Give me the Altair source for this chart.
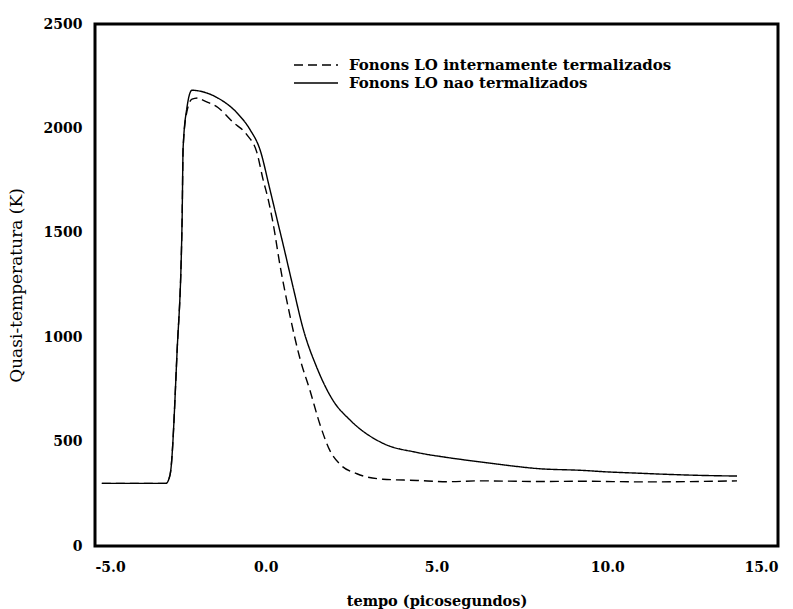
import altair as alt
import pandas as pd

# ---- data ----
series_names = ["Fonons LO internamente termalizados", "Fonons LO nao termalizados"]

t_dash = [-4.8, -2.92, -2.80, -2.6, -2.45, -2.42, -2.31, -2.16, -1.98, -1.84, -1.40,
          -0.96, -0.55, -0.26, -0.08, 0.07, 0.21, 0.42, 0.71, 1.0, 1.30, 1.59, 1.88,
          2.17, 2.67, 3.43, 4.43, 5.31, 6.27, 7.94, 9.2, 11.16, 13.8]
y_dash = [300, 300, 343, 919, 1555, 1905, 2080, 2140, 2146, 2135, 2100,
          2030, 1969, 1885, 1756, 1661, 1550, 1342, 1102, 899, 742, 581, 457,
          392, 346, 320, 314, 308, 312, 309, 310, 307, 312]

t_solid = [-4.8, -2.92, -2.80, -2.6, -2.45, -2.42, -2.31, -2.16, -1.98, -1.43, -0.84,
           -0.46, -0.17, 0.12, 0.36, 0.5, 0.8, 1.09, 1.5, 1.97, 2.47, 3.43, 4.43,
           5.35, 6.27, 7.24, 7.94, 9.29, 9.99, 10.87, 11.78, 12.77, 13.8]
y_solid = [300, 300, 343, 919, 1555, 1905, 2097, 2183, 2180, 2148, 2074,
           1994, 1899, 1709, 1545, 1450, 1240, 1043, 853, 697, 603, 492, 448,
           423, 403, 383, 371, 362, 355, 349, 343, 338, 335]

x_ticks = [-5, 0, 5, 10, 15]
y_ticks = [0, 500, 1000, 1500, 2000, 2500]

df = pd.concat([
    pd.DataFrame({"t": t_dash, "T": y_dash, "serie": series_names[0],
                  "ord": list(range(len(t_dash)))}),
    pd.DataFrame({"t": t_solid, "T": y_solid, "serie": series_names[1],
                  "ord": list(range(len(t_solid)))}),
])

FONT = "DejaVu Serif"

chart = alt.Chart(df).mark_line(color="black", strokeWidth=1.4, interpolate="monotone").encode(
    x=alt.X("t:Q",
            scale=alt.Scale(domain=[-5, 15], nice=False, zero=False),
            axis=alt.Axis(values=x_ticks, title="tempo (picosegundos)",
                          labelExpr="replace(format(datum.value, '.1f'), '\u2212', '-')")),
    y=alt.Y("T:Q",
            scale=alt.Scale(domain=[0, 2500], nice=False),
            axis=alt.Axis(values=y_ticks, title="Quasi-temperatura (K)", format="d")),
    strokeDash=alt.StrokeDash(
        "serie:N",
        scale=alt.Scale(domain=series_names, range=[[9, 5], [1, 0]]),
        legend=alt.Legend(title=None, orient="none", legendX=198, legendY=33,
                          symbolType="stroke", symbolSize=1936,
                          symbolStrokeWidth=1.5, symbolStrokeColor="black",
                          labelFont=FONT, labelFontSize=15, labelFontWeight="bold",
                          labelColor="black", labelOffset=10, labelLimit=0,
                          clipHeight=16, rowPadding=2)),
    order="ord:Q",
).properties(
    width=683, height=522,
    autosize=alt.AutoSizeParams(type="none"),
    padding={"left": 95, "top": 24, "right": 15, "bottom": 63},
).configure_view(
    stroke="black", strokeWidth=3
).configure_axis(
    domain=False, ticks=False, grid=False,
    labelFont=FONT, labelFontSize=14, labelFontWeight="bold", labelColor="black",
    titleFont=FONT, titleColor="black",
).configure_axisX(
    labelPadding=14, titleFontSize=14.5, titleFontWeight="bold", titlePadding=20,
).configure_axisY(
    labelPadding=13, titleFontSize=17, titleFontWeight="normal", titlePadding=18,
)

chart.save("out.html", embed_options={"renderer": "svg", "actions": False})
